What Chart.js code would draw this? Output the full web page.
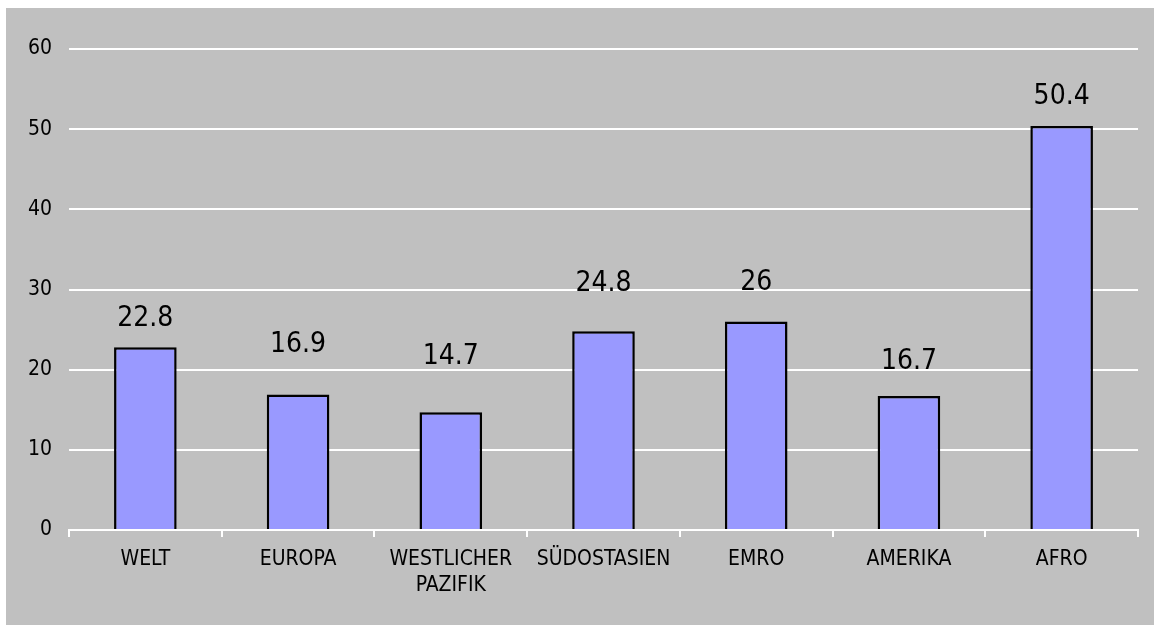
<!DOCTYPE html>
<html>
<head>
<meta charset="utf-8">
<script src="https://cdn.jsdelivr.net/npm/chart.js@4/dist/chart.umd.min.js"></script>
<style>
  html, body { margin: 0; padding: 0; background: #ffffff; }
  .caixa {
    position: absolute;
    left: 6px;
    top: 8px;
    width: 1148px;
    height: 617px;
    background: #c0c0c0;
  }
</style>
</head>
<body>
<div class="caixa"><canvas id="grafico"></canvas></div>
<script>
// dados do grafico
const regioes = ['WELT', 'EUROPA', ['WESTLICHER', 'PAZIFIK'], 'SÜDOSTASIEN', 'EMRO', 'AMERIKA', 'AFRO'];
const valores = [22.8, 16.9, 14.7, 24.8, 26, 16.7, 50.4];
const yTicks = [0, 10, 20, 30, 40, 50, 60];

// distancia do rotulo ao topo da barra (estilo, como no original)
const folgaRotulo = [21, 43, 48, 40, 32, 27, 22];

const fonteNarrow = "'DejaVu Sans Condensed', sans-serif";

const rotulosPlugin = {
  id: 'rotulos',
  afterDatasetsDraw(chart) {
    const ctx = chart.ctx;
    const meta = chart.getDatasetMeta(0);
    ctx.save();
    ctx.font = '28px ' + fonteNarrow;
    ctx.fillStyle = '#000000';
    ctx.textAlign = 'center';
    ctx.textBaseline = 'alphabetic';
    meta.data.forEach((bar, i) => {
      ctx.fillText(String(valores[i]), bar.x, bar.y - folgaRotulo[i]);
    });
    ctx.restore();
  }
};

const config = {
  type: 'bar',
  data: {
    labels: regioes,
    datasets: [{
      data: valores,
      backgroundColor: '#9999ff',
      borderColor: '#000000',
      borderWidth: 2.5,
      borderSkipped: 'bottom',
      barPercentage: 0.41,
      categoryPercentage: 1
    }]
  },
  options: {
    responsive: true,
    maintainAspectRatio: false,
    animation: false,
    layout: { padding: { left: 0, top: 41, right: 16, bottom: 0 } },
    plugins: {
      legend: { display: false },
      tooltip: { enabled: false }
    },
    scales: {
      x: {
        afterFit(scale) { scale.height = 95; },
        grid: {
          offset: true,
          drawOnChartArea: false,
          drawTicks: true,
          tickLength: 7,
          color: '#ffffff',
          lineWidth: 2
        },
        border: { display: true, color: '#ffffff', width: 2 },
        ticks: {
          color: '#000000',
          padding: 10,
          maxRotation: 0,
          autoSkip: false,
          font: { family: fonteNarrow, size: 21, lineHeight: 1.22 }
        }
      },
      y: {
        min: 0,
        max: 60,
        afterFit(scale) { scale.width = 63; },
        afterBuildTicks(scale) { scale.ticks = yTicks.map(v => ({ value: v })); },
        grid: {
          color: '#ffffff',
          lineWidth: 2,
          drawTicks: false
        },
        border: { display: false },
        ticks: {
          color: '#000000',
          padding: 17,
          font: { family: fonteNarrow, size: 21 }
        }
      }
    }
  },
  plugins: [rotulosPlugin]
};

const meuGrafico = new Chart(document.getElementById('grafico'), config);
</script>
</body>
</html>
